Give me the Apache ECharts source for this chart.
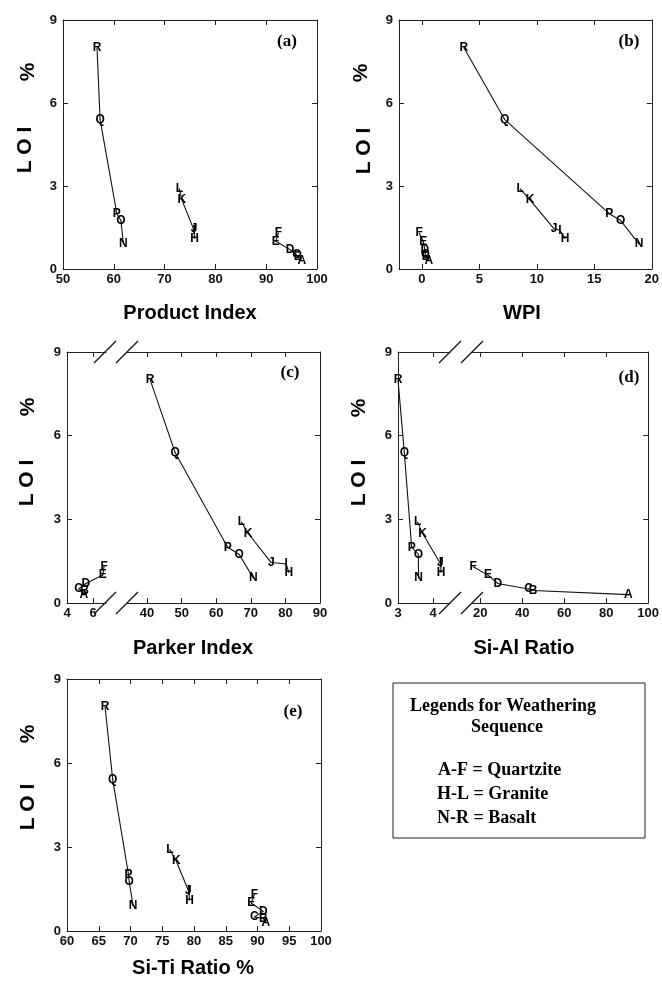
<!DOCTYPE html>
<html>
<head>
<meta charset="utf-8">
<script src="https://cdn.jsdelivr.net/npm/echarts@6/dist/echarts.min.js"></script>
<style>
html,body{margin:0;padding:0;background:#fff;}
#chart{width:662px;height:985px;}
</style>
</head>
<body>
<div id="chart"></div>
<script>
// ---- Data ----
const quartzLabels = ['A','B','C','D','E','F'];
const graniteLabels = ['H','I','J','K','L'];
const basaltLabels = ['N','O','P','Q','R'];

const quartzLOI = [0.3, 0.45, 0.5, 0.7, 1.0, 1.3];
const graniteLOI = [1.1, 1.4, 1.45, 2.5, 2.9];
const basaltLOI = [0.9, 1.75, 2.0, 5.4, 8.0];

// (a) Product Index
const quartzPI = [97.0, 96.3, 96.0, 94.7, 91.9, 92.4];
const granitePI = [75.9, 75.8, 75.8, 73.4, 72.9];
const basaltPI = [61.9, 61.4, 60.6, 57.3, 56.7];
// (b) WPI
const quartzWPI = [0.6, 0.35, 0.3, 0.25, 0.1, -0.25];
const graniteWPI = [12.45, 12.0, 11.5, 9.4, 8.55];
const basaltWPI = [18.9, 17.3, 16.3, 7.2, 3.65];
// (c) Parker Index
const quartzParker = [5.3, 5.35, 4.9, 5.45, 6.75, 6.85];
const graniteParker = [81.0, 80.2, 75.9, 69.2, 67.3];
const basaltParker = [70.7, 66.6, 63.3, 48.1, 40.9];
// (d) Si-Al Ratio
const quartzSiAl = [90.6, 45.2, 43.0, 28.4, 23.7, 16.7];
const graniteSiAl = [4.23, 4.22, 4.21, 3.70, 3.56];
const basaltSiAl = [3.59, 3.58, 3.39, 3.18, 3.0];
// (e) Si-Ti Ratio %
const quartzSiTi = [91.3, 90.9, 89.5, 90.9, 89.0, 89.5];
const graniteSiTi = [79.3, 79.2, 79.1, 77.2, 76.2];
const basaltSiTi = [70.4, 69.8, 69.7, 67.2, 66.0];

// tick labels
const yTicks = [0, 3, 6, 9];
const ticksA = [50, 60, 70, 80, 90, 100];
const ticksB = [0, 5, 10, 15, 20];
const ticksCLeft = [4, 6];
const ticksCRight = [40, 50, 60, 70, 80, 90];
const ticksDLeft = [3, 4];
const ticksDRight = [20, 40, 60, 80, 100];
const ticksE = [60, 65, 70, 75, 80, 85, 90, 95, 100];

// ---- Build ----
const grids = [], xAxes = [], yAxes = [], series = [];
const lineStyle = {color: '#222', width: 1};
const labelStyle = {fontFamily: 'Liberation Sans', fontWeight: 'bold', fontSize: 13, color: '#111'};

function makeGrid(rect, xmin, xmax, xticks, o) {
  const gi = grids.length;
  grids.push({left: rect[0], top: rect[1], width: rect[2], height: rect[3], containLabel: false});
  const xi = xAxes.length;
  const base = {type: 'value', gridIndex: gi, min: xmin, max: xmax, splitLine: {show: false}};
  xAxes.push(Object.assign({}, base, {
    position: 'bottom',
    axisLine: {show: true, onZero: false, lineStyle},
    axisTick: {show: true, inside: true, length: 5, customValues: xticks, lineStyle},
    axisLabel: Object.assign({show: true, margin: 4, customValues: xticks, showMinLabel: true, showMaxLabel: true}, labelStyle)
  }));
  xAxes.push(Object.assign({}, base, {
    position: 'top',
    axisLine: {show: true, onZero: false, lineStyle},
    axisTick: {show: true, inside: true, length: 5, customValues: xticks, lineStyle},
    axisLabel: {show: false}
  }));
  const yi = yAxes.length;
  const ybase = {type: 'value', gridIndex: gi, min: 0, max: 9, interval: 3, splitLine: {show: false}};
  if (o.left) {
    yAxes.push(Object.assign({}, ybase, {
      position: 'left',
      axisLine: {show: true, onZero: false, lineStyle},
      axisTick: {show: true, inside: true, length: 5, lineStyle},
      axisLabel: Object.assign({show: true, margin: 6}, labelStyle)
    }));
  }
  if (o.right) {
    yAxes.push(Object.assign({}, ybase, {
      position: 'right',
      axisLine: {show: true, onZero: false, lineStyle},
      axisTick: {show: true, inside: true, length: 5, lineStyle},
      axisLabel: {show: false}
    }));
  }
  return {xi, yi};
}

function addSeries(ax, xs, ys, labels) {
  series.push({
    type: 'line',
    xAxisIndex: ax.xi,
    yAxisIndex: ax.yi,
    data: xs.map((x, i) => [x, ys[i], labels[i]]),
    symbol: 'circle',
    symbolSize: 1,
    showSymbol: true,
    lineStyle: {color: '#111', width: 1.1},
    itemStyle: {color: '#111'},
    label: {
      show: true, position: 'inside',
      formatter: p => p.data[2],
      fontFamily: 'Liberation Sans', fontWeight: 'bold', fontSize: 12, color: '#000'
    },
    emphasis: {disabled: true},
    animation: false,
    z: 5
  });
}

// (a)
const gA = makeGrid([63, 20, 254, 249], 50, 100, ticksA, {left: true, right: true});
addSeries(gA, quartzPI, quartzLOI, quartzLabels);
addSeries(gA, granitePI, graniteLOI, graniteLabels);
addSeries(gA, basaltPI, basaltLOI, basaltLabels);
// (b)
const gB = makeGrid([399, 20, 254, 249], -2, 20, ticksB, {left: true, right: true});
addSeries(gB, quartzWPI, quartzLOI, quartzLabels);
addSeries(gB, graniteWPI, graniteLOI, graniteLabels);
addSeries(gB, basaltWPI, basaltLOI, basaltLabels);
// (c) broken axis
const gCL = makeGrid([67, 352, 39, 251], 4, 7.0, ticksCLeft, {left: true});
const gCR = makeGrid([127, 352, 193, 251], 34.2, 90, ticksCRight, {right: true});
addSeries(gCL, quartzParker, quartzLOI, quartzLabels);
addSeries(gCR, graniteParker, graniteLOI, graniteLabels);
addSeries(gCR, basaltParker, basaltLOI, basaltLabels);
// (d) broken axis
const gDL = makeGrid([398, 352, 52, 251], 3, 4.486, ticksDLeft, {left: true});
const gDR = makeGrid([472, 352, 179, 251], 16.1, 100, ticksDRight, {right: true});
addSeries(gDR, quartzSiAl, quartzLOI, quartzLabels);
addSeries(gDL, graniteSiAl, graniteLOI, graniteLabels);
addSeries(gDL, basaltSiAl, basaltLOI, basaltLabels);
// (e)
const gE = makeGrid([67, 679, 254, 252], 60, 100, ticksE, {left: true, right: true});
addSeries(gE, quartzSiTi, quartzLOI, quartzLabels);
addSeries(gE, graniteSiTi, graniteLOI, graniteLabels);
addSeries(gE, basaltSiTi, basaltLOI, basaltLabels);

// ---- Graphics: titles, panel tags, axis breaks, legend box ----
const graphic = [];
function txt(s, x, y, font, rot, align) {
  graphic.push({
    type: 'text', x: x, y: y, rotation: rot || 0, silent: true,
    style: {text: s, x: 0, y: 0, font: font, fill: '#000', align: align || 'center', verticalAlign: 'middle'}
  });
}
const titleFont = 'bold 20px "Liberation Sans"';
const yFont = 'bold 21px "Liberation Sans"';
const tagFont = 'bold 17px "Liberation Serif"';
const legFont = 'bold 18px "Liberation Serif"';

txt('Product Index', 190, 313, titleFont);
txt('WPI', 522, 313, titleFont);
txt('Parker Index', 193, 648, titleFont);
txt('Si-Al Ratio', 524, 648, titleFont);
txt('Si-Ti Ratio %', 193, 968, titleFont);

const yl = [[25, 150, 28, 72], [364, 151, 361, 73], [27, 483, 28, 407], [359, 483, 359, 408], [28, 807, 28, 734]];
yl.forEach(p => { txt('L O I', p[0], p[1], yFont, Math.PI / 2); txt('%', p[2], p[3], yFont, Math.PI / 2); });

txt('(a)', 287, 42, tagFont);
txt('(b)', 629, 42, tagFont);
txt('(c)', 290, 373, tagFont);
txt('(d)', 629, 378, tagFont);
txt('(e)', 293, 712, tagFont);

function slash(cx, cy) {
  graphic.push({type: 'line', silent: true, shape: {x1: cx - 11, y1: cy + 11, x2: cx + 11, y2: cy - 11}, style: {stroke: '#111', lineWidth: 1.2}});
}
[[105, 352], [127, 352], [105, 603], [127, 603], [450, 352], [472, 352], [450, 603], [472, 603]].forEach(p => slash(p[0], p[1]));

graphic.push({type: 'rect', silent: true, shape: {x: 393, y: 683, width: 252, height: 155}, style: {fill: 'none', stroke: '#222', lineWidth: 1}});
txt('Legends for Weathering', 503, 706, legFont);
txt('Sequence', 507, 727, legFont);
txt('A-F = Quartzite', 438, 770, legFont, 0, 'left');
txt('H-L = Granite', 437, 794, legFont, 0, 'left');
txt('N-R = Basalt', 437, 818, legFont, 0, 'left');

const chart = echarts.init(document.getElementById('chart'), null, {renderer: 'canvas'});
chart.setOption({
  backgroundColor: '#fff',
  animation: false,
  grid: grids,
  xAxis: xAxes,
  yAxis: yAxes,
  series: series,
  graphic: graphic
});
</script>
</body>
</html>
